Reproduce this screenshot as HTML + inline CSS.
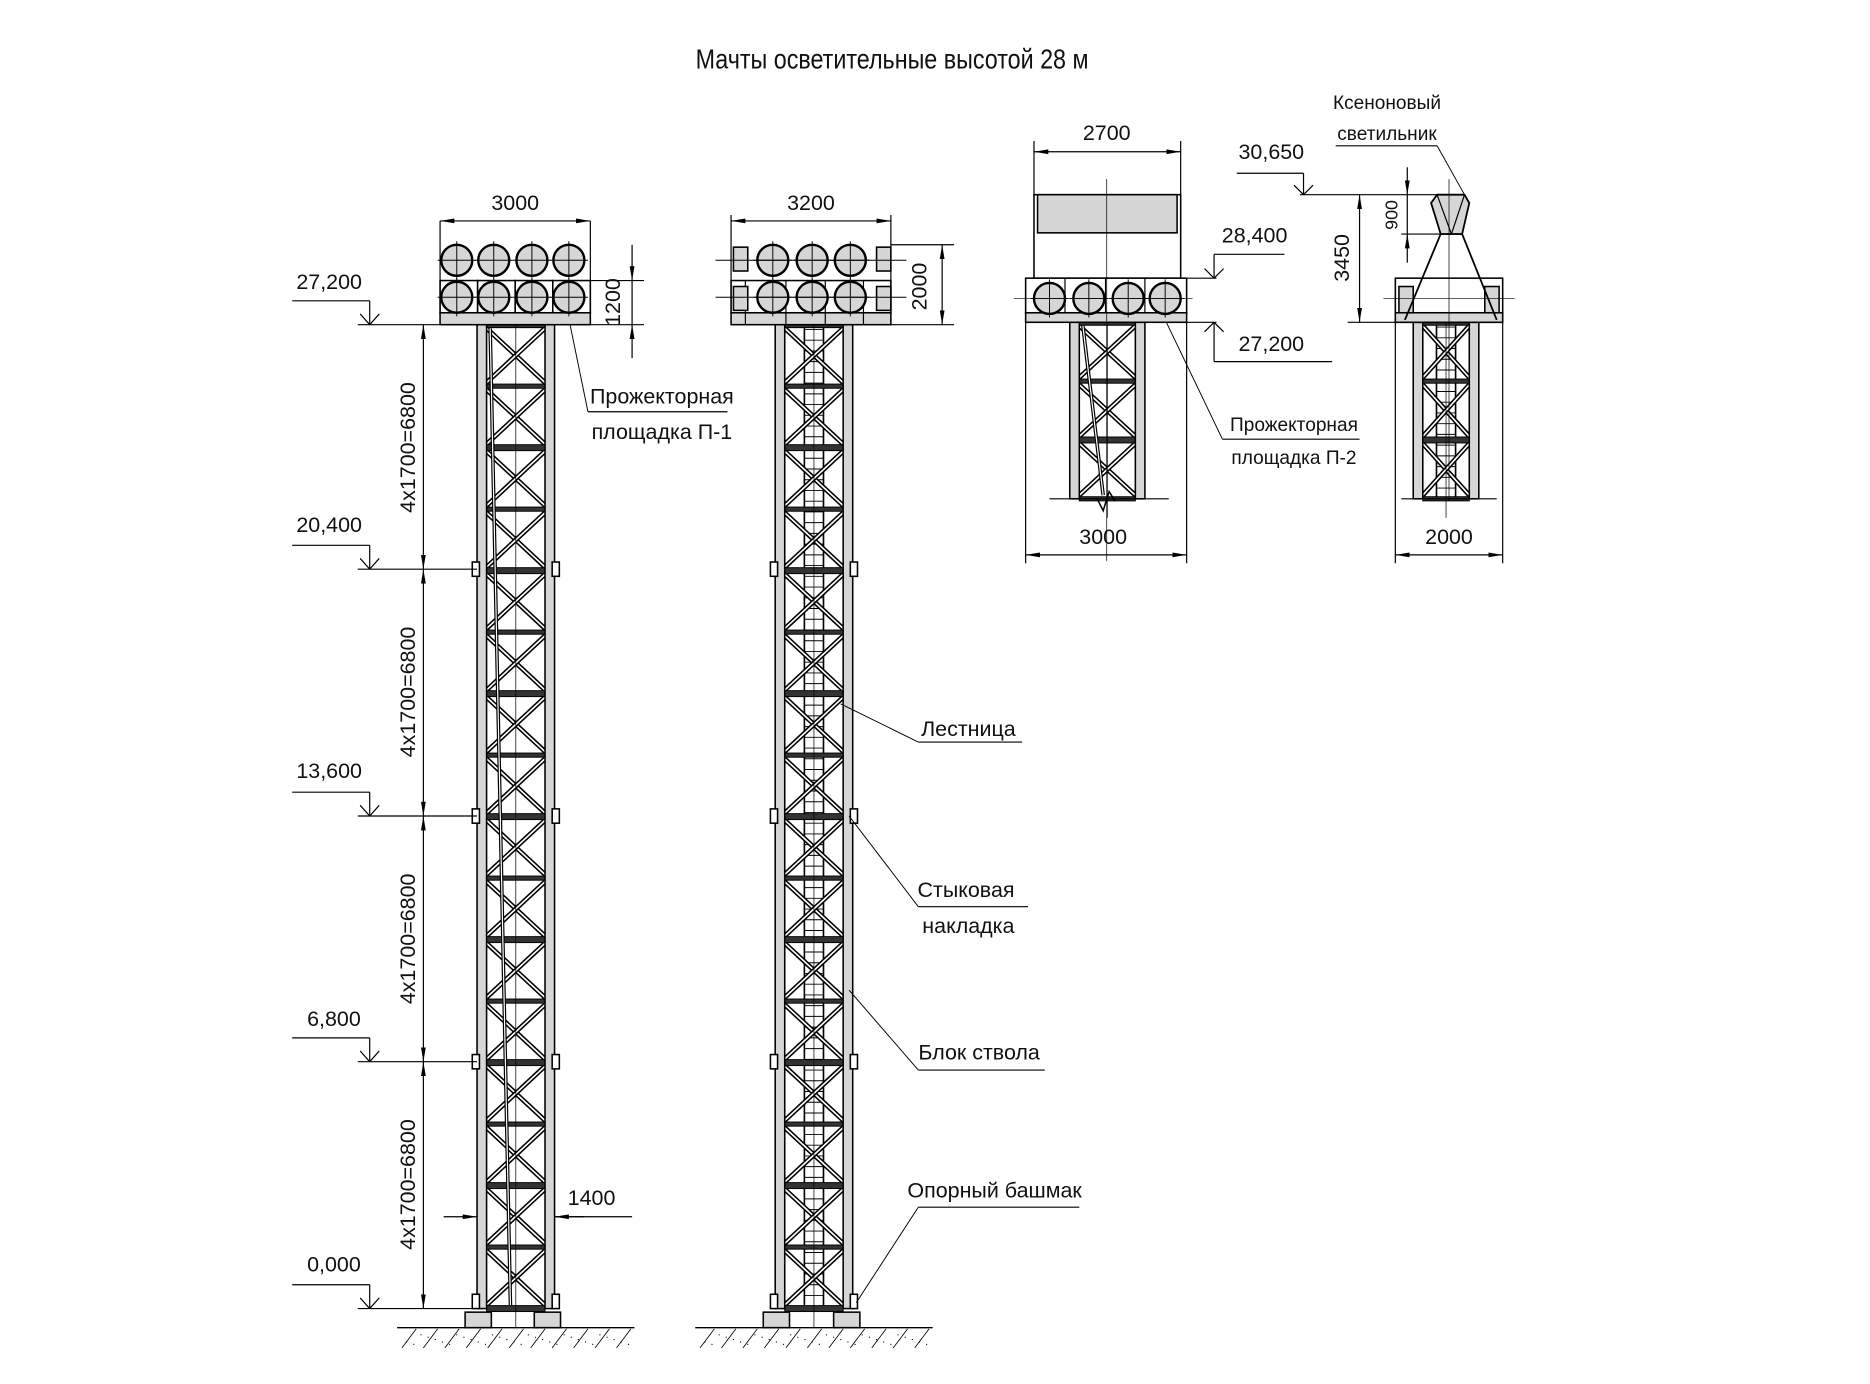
<!DOCTYPE html>
<html><head><meta charset="utf-8"><style>
html,body{margin:0;padding:0;background:#fff;}
svg{display:block}
text{font-family:"Liberation Sans Narrow","Liberation Sans",sans-serif;fill:#111;}
</style></head><body>
<svg id="s" width="1870" height="1384" viewBox="0 0 1568 1160" xmlns="http://www.w3.org/2000/svg">
<defs>
<marker id="a" viewBox="0 0 12 6" refX="12" refY="3" markerWidth="12" markerHeight="6" orient="auto-start-reverse" markerUnits="userSpaceOnUse"><path d="M0,1 L12,3 L0,5 Z" fill="#000"/></marker>
</defs>
<g id="g" stroke="#000" stroke-width="1.3" fill="none"></g>
<g font-size="18">
<text x="748" y="57" text-anchor="middle" font-size="23" transform="translate(748 0) scale(0.85 1) translate(-748 0)">Мачты осветительные высотой 28 м</text>
<text x="432" y="176" text-anchor="middle">3000</text>
<text x="680" y="176" text-anchor="middle">3200</text>
<text x="928" y="117" text-anchor="middle">2700</text>
<text x="925" y="456" text-anchor="middle">3000</text>
<text x="1215" y="456" text-anchor="middle">2000</text>
<text x="276" y="242" text-anchor="middle">27,200</text>
<text x="276" y="446" text-anchor="middle">20,400</text>
<text x="276" y="652" text-anchor="middle">13,600</text>
<text x="280" y="860" text-anchor="middle">6,800</text>
<text x="280" y="1066" text-anchor="middle">0,000</text>
<text x="1052" y="203" text-anchor="middle">28,400</text>
<text x="1066" y="294" text-anchor="middle">27,200</text>
<text x="1066" y="133" text-anchor="middle">30,650</text>
<text x="496" y="1010" text-anchor="middle">1400</text>
<text x="555" y="338" text-anchor="middle">Прожекторная</text>
<text x="555" y="368" text-anchor="middle">площадка П-1</text>
<text x="1085" y="361" text-anchor="middle" font-size="16">Прожекторная</text>
<text x="1085" y="389" text-anchor="middle" font-size="16">площадка П-2</text>
<text x="1163" y="91" text-anchor="middle" font-size="16">Ксеноновый</text>
<text x="1163" y="117" text-anchor="middle" font-size="16">светильник</text>
<text x="812" y="617" text-anchor="middle">Лестница</text>
<text x="810" y="752" text-anchor="middle">Стыковая</text>
<text x="812" y="782" text-anchor="middle">накладка</text>
<text x="821" y="888" text-anchor="middle">Блок ствола</text>
<text x="834" y="1004" text-anchor="middle">Опорный башмак</text>
<text transform="translate(348 375) rotate(-90)" text-anchor="middle">4x1700=6800</text>
<text transform="translate(348 580) rotate(-90)" text-anchor="middle">4x1700=6800</text>
<text transform="translate(348 787) rotate(-90)" text-anchor="middle">4x1700=6800</text>
<text transform="translate(348 993) rotate(-90)" text-anchor="middle">4x1700=6800</text>
<text transform="translate(520 253) rotate(-90)" text-anchor="middle">1200</text>
<text transform="translate(777 240) rotate(-90)" text-anchor="middle">2000</text>
<text transform="translate(1131 216) rotate(-90)" text-anchor="middle">3450</text>
<text transform="translate(1172 180) rotate(-90)" text-anchor="middle" font-size="15">900</text>
</g>
</svg>
<script>
var g=document.getElementById('g'),NS='http://www.w3.org/2000/svg';
function el(t,a){var e=document.createElementNS(NS,t);for(var k in a)e.setAttribute(k,a[k]);g.appendChild(e);return e;}
function L(x1,y1,x2,y2,w,c){return el('line',{x1:x1,y1:y1,x2:x2,y2:y2,'stroke-width':w||1.3,stroke:c||'#000'});}
function R(x,y,w,h,f){return el('rect',{x:x,y:y,width:w,height:h,fill:f||'#d6d6d6'});}
function C(x,y,r){el('circle',{cx:x,cy:y,r:r,fill:'#d6d6d6','stroke-width':2});L(x-r-3,y,x+r+3,y,0.8);L(x,y-r-3,x,y+r+3,0.8);}
function D(x1,y1,x2,y2){var e=L(x1,y1,x2,y2,1);e.setAttribute('marker-start','url(#a)');e.setAttribute('marker-end','url(#a)');}
function DB(x,y1,x2){var e=L(x,y1,x2,y1,1);e.setAttribute('marker-end','url(#a)');}
function P(d,f,w){return el('path',{d:d,fill:f||'none','stroke-width':w||1.3});}
function X(x1,y1,x2,y2){L(x1,y1,x2,y2,4);L(x1,y1,x2,y2,1.4,'#fff');}
function mast(x0,x1,yt,yb,secs,lad,cable){
 var cw=8;
 if(lad){R((x0+x1)/2-8,yt,16,yb-yt,'#fff');for(var y=yt+4;y<yb;y+=9)L((x0+x1)/2-8,y,(x0+x1)/2+8,y,0.8);L((x0+x1)/2-8,yt,(x0+x1)/2-8,yb,1);L((x0+x1)/2+8,yt,(x0+x1)/2+8,yb,1);}
 var js=[];for(var i=0;i<=secs*4;i++)js.push(yt+(yb-yt)*i/(secs*4));
 for(var i=0;i<js.length-1;i++){var a=js[i],b=js[i+1];X(x0+cw,a+3,x1-cw,b-3);X(x1-cw,a+3,x0+cw,b-3);}
 for(var i=0;i<js.length;i++){var hw=(i%2==0)?3:1.5;el('rect',{x:x0+cw,y:js[i]-hw/2-1,width:x1-x0-2*cw,height:hw+2,fill:'#333','stroke-width':0.8});}
 if(cable){L(x0+cw+3,yt+3,x0+cw+20,yb-3,3);L(x0+cw+3,yt+3,x0+cw+20,yb-3,1,'#fff');}
 L((x0+x1)/2,yt,(x0+x1)/2,yb+16,0.6);
 R(x0,yt,cw,yb-yt);R(x1-cw,yt,cw,yb-yt);
 return js;
}
var J=[272,477,684,890,1097];
mast(400,465,272,1097,4,false,true);
for(var i=1;i<4;i++){R(396,J[i]-6,6,12,'#fff');R(463,J[i]-6,6,12,'#fff');}
R(396,1085,6,12,'#fff');R(463,1085,6,12,'#fff');
R(390,1100,22,13);R(448,1100,22,13);
R(369,262,126,10);for(var i=0;i<4;i++){R(369+i*31.5,235,31.5,27,'#fff');}
[383,414,446,477].forEach(function(x){C(x,218,13);C(x,249,13);});
L(369,185,369,262,1);L(495,185,495,262,1);D(369,185,495,185);
L(495,235,540,235,1);L(495,272,540,272,1);
var e=L(530,205,530,235,1);e.setAttribute('marker-end','url(#a)');e=L(530,300,530,272,1);e.setAttribute('marker-end','url(#a)');L(530,235,530,272,1);
L(478,272,493,345,0.8);L(493,345,610,345,1);
[272,477,684,890,1097].forEach(function(y,i){L(245,y-20,310,y-20,1);L(310,y-20,310,y,1);L(302,y-9,310,y,1);L(318,y-9,310,y,1);L(300,y,400,y,1);});
for(var i=0;i<4;i++)D(355,J[i],355,J[i+1]);
DB(372,1020,400);DB(490,1020,465);L(465,1020,530,1020,1);
mast(650,715,272,1097,4,true,false);
for(var i=1;i<4;i++){R(646,J[i]-6,6,12,'#fff');R(713,J[i]-6,6,12,'#fff');}
R(646,1085,6,12,'#fff');R(713,1085,6,12,'#fff');
R(640,1100,22,13);R(699,1100,22,13);
R(613,262,134,10);
R(613,235,134,27,'#fff');[625,659,692,724].forEach(function(x){L(x,235,x,272,1);});
R(615,207,12,20);R(735,207,12,20);R(615,240,12,20);R(735,240,12,20);
[648,681,713].forEach(function(x){C(x,218,13);C(x,249,13);});
L(600,218,760,218,0.8);L(600,249,760,249,0.8);
L(613,180,613,262,1);L(747,180,747,262,1);D(613,185,747,185);
L(747,205,800,205,1);L(747,272,800,272,1);D(790,205,790,272);
L(705,590,770,622,0.8);L(770,622,857,622,1);
L(712,684,770,760,0.8);L(770,760,862,760,1);
L(712,830,770,897,0.8);L(770,897,876,897,1);
L(718,1092,770,1012,0.8);L(770,1012,905,1012,1);
function ground(x1,x2){L(x1,1113,x2,1113,1.2);for(var x=x1+4;x<x2;x+=18){L(x,1130,x+12,1114,0.7);}for(var x=x1+8;x<x2;x+=6){el('circle',{cx:x,cy:1118+((x*7)%10),r:0.5,fill:'#000','stroke-width':0});}}
ground(333,532);ground(583,782);
mast(897,960,270,418,0.75,false,true);
R(867,163,123,70,'#fff');R(870,163,117,32);
R(860,262,135,8);R(860,233,135,29,'#fff');[893,927,960].forEach(function(x){L(x,233,x,262,1);});
[880,913,946,977].forEach(function(x){C(x,250,13);});
L(928,150,928,470,0.6);L(850,250,1000,250,0.6);
L(867,118,867,163,1);L(990,118,990,163,1);D(867,127,990,127);
L(860,270,860,472,1);L(995,270,995,472,1);D(860,465,995,465);
L(880,418,980,418,1);P('M920,418 L925,428 L930,412 L935,420');
L(995,233,1020,233,1);L(1018,233,1018,213,1);L(1018,213,1077,213,1);L(1010,225,1018,233,1);L(1026,225,1018,233,1);
L(995,270,1020,270,1);L(1018,270,1018,303,1);L(1018,303,1117,303,1);L(1010,278,1018,270,1);L(1026,278,1018,270,1);
L(978,270,1025,368,0.8);L(1025,368,1140,368,1);
mast(1185,1240,270,418,0.75,true,false);
R(1170,233,90,37,'#fff');R(1170,262,90,8);R(1173,240,12,22);R(1245,240,12,22);
P('M1178,268 L1208,196 L1226,196 L1255,268',null,1.5);
P('M1200,170 L1205,163 L1228,163 L1232,170 L1226,196 L1208,196 Z','#d6d6d6',1.5);
L(1205,163,1217,196,1);L(1228,163,1217,196,1);
L(1215,150,1215,420,0.6);L(1160,250,1270,250,0.6);
L(1170,270,1170,472,1);L(1260,270,1260,472,1);D(1170,465,1260,465);
L(1175,418,1255,418,1);
L(1090,163,1215,163,1);L(1093,163,1093,145,1);L(1037,145,1093,145,1);L(1085,155,1093,163,1);L(1101,155,1093,163,1);
L(1130,270,1170,270,1);D(1140,163,1140,270);
L(1175,196,1210,196,1);e=L(1180,140,1180,163,1);e.setAttribute('marker-end','url(#a)');e=L(1180,220,1180,196,1);e.setAttribute('marker-end','url(#a)');L(1180,163,1180,196,1);
L(1120,122,1205,122,1);L(1205,122,1228,163,0.8);
</script>
</body></html>
